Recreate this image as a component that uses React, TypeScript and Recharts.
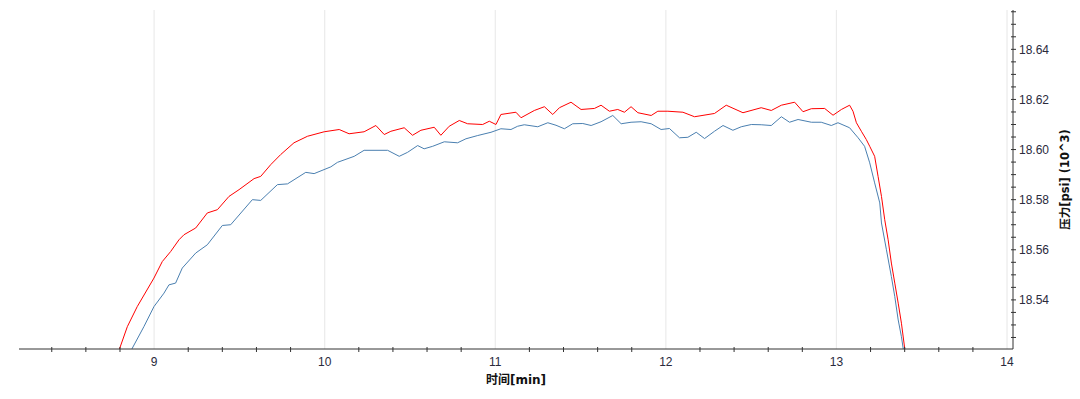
import React from 'react';
import { LineChart, Line, XAxis, YAxis, ReferenceLine, Label } from 'recharts';

// time [min]
const redTime = [8.774, 8.799, 8.843, 8.901, 8.999, 9.048, 9.097, 9.146, 9.175, 9.244, 9.312, 9.371, 9.439, 9.498, 9.586, 9.625, 9.684, 9.742, 9.82, 9.899, 9.997, 10.085, 10.143, 10.231, 10.3, 10.349, 10.388, 10.466, 10.515, 10.564, 10.642, 10.681, 10.73, 10.789, 10.838, 10.926, 10.965, 11.004, 11.033, 11.121, 11.151, 11.229, 11.288, 11.337, 11.376, 11.444, 11.503, 11.581, 11.62, 11.669, 11.718, 11.757, 11.796, 11.836, 11.914, 11.953, 12.012, 12.1, 12.168, 12.285, 12.354, 12.452, 12.559, 12.618, 12.677, 12.755, 12.804, 12.853, 12.931, 12.98, 13.029, 13.077, 13.097, 13.117, 13.146, 13.175, 13.195, 13.224, 13.244, 13.264, 13.283, 13.303, 13.322, 13.342, 13.362, 13.381, 13.4, 13.41];
// pressure [psi x 10^3]
const redPressure = [18.5152, 18.5208, 18.5293, 18.5373, 18.5487, 18.5553, 18.5593, 18.564, 18.566, 18.5687, 18.5747, 18.576, 18.5813, 18.584, 18.5884, 18.5893, 18.594, 18.598, 18.6027, 18.6053, 18.6071, 18.608, 18.6063, 18.6071, 18.6096, 18.606, 18.6073, 18.6087, 18.6057, 18.6077, 18.6089, 18.6057, 18.6093, 18.6116, 18.6103, 18.61, 18.6113, 18.61, 18.614, 18.6149, 18.6127, 18.6156, 18.6171, 18.614, 18.6167, 18.6189, 18.616, 18.6164, 18.6177, 18.6153, 18.616, 18.6149, 18.6171, 18.6147, 18.6136, 18.6153, 18.6153, 18.6149, 18.6131, 18.6144, 18.6177, 18.6147, 18.6167, 18.6156, 18.6177, 18.6189, 18.6151, 18.6163, 18.6164, 18.6137, 18.616, 18.6177, 18.6153, 18.6107, 18.6073, 18.604, 18.6013, 18.5973, 18.5893, 18.5813, 18.572, 18.564, 18.5547, 18.5467, 18.5387, 18.5307, 18.5207, 18.5152];

const blueTime = [8.85, 8.872, 8.94, 8.999, 9.058, 9.087, 9.126, 9.165, 9.244, 9.312, 9.4, 9.449, 9.576, 9.625, 9.723, 9.782, 9.889, 9.938, 10.036, 10.075, 10.173, 10.231, 10.369, 10.437, 10.486, 10.545, 10.583, 10.633, 10.701, 10.779, 10.828, 10.897, 10.975, 11.033, 11.092, 11.131, 11.17, 11.249, 11.308, 11.356, 11.405, 11.454, 11.513, 11.562, 11.62, 11.689, 11.738, 11.796, 11.855, 11.914, 11.972, 12.021, 12.08, 12.129, 12.178, 12.227, 12.285, 12.335, 12.393, 12.442, 12.501, 12.559, 12.618, 12.677, 12.725, 12.775, 12.853, 12.911, 12.97, 13.009, 13.077, 13.127, 13.165, 13.195, 13.224, 13.254, 13.264, 13.293, 13.322, 13.342, 13.362, 13.381, 13.391, 13.398];
const bluePressure = [18.5152, 18.5207, 18.5293, 18.5373, 18.5427, 18.546, 18.5467, 18.5527, 18.5587, 18.562, 18.5697, 18.57, 18.58, 18.5797, 18.586, 18.5863, 18.5909, 18.5904, 18.5931, 18.5949, 18.5973, 18.5997, 18.5997, 18.5973, 18.5989, 18.6016, 18.6003, 18.6013, 18.6031, 18.6027, 18.6043, 18.6056, 18.6069, 18.6083, 18.608, 18.6093, 18.6099, 18.6091, 18.6107, 18.6097, 18.6083, 18.6103, 18.6104, 18.6096, 18.6111, 18.6136, 18.6103, 18.6109, 18.6111, 18.6103, 18.608, 18.6084, 18.6047, 18.6049, 18.6069, 18.6044, 18.6073, 18.6096, 18.6077, 18.6091, 18.61, 18.6099, 18.6096, 18.6131, 18.6109, 18.612, 18.6109, 18.6109, 18.6096, 18.6107, 18.6087, 18.6047, 18.6013, 18.5947, 18.5867, 18.5787, 18.5707, 18.56, 18.5493, 18.5413, 18.532, 18.5253, 18.5207, 18.5152];

const xTicks = [8.4, 8.6, 8.8, 9, 9.2, 9.4, 9.6, 9.8, 10, 10.2, 10.4, 10.6, 10.8, 11, 11.2, 11.4, 11.6, 11.8, 12, 12.2, 12.4, 12.6, 12.8, 13, 13.2, 13.4, 13.6, 13.8, 14];
const xLabelTicks = [9, 10, 11, 12, 13, 14];
const yTicks = [18.525, 18.53, 18.535, 18.54, 18.545, 18.55, 18.555, 18.56, 18.565, 18.57, 18.575, 18.58, 18.585, 18.59, 18.595, 18.6, 18.605, 18.61, 18.615, 18.62, 18.625, 18.63, 18.635, 18.64, 18.645, 18.65, 18.655];
const yLabelTicks = [18.54, 18.56, 18.58, 18.6, 18.62, 18.64];

const xDomain = [8.208, 14.035];
const yDomain = [18.5204, 18.6557];

const redData = redTime.map((t, i) => ({ t, v: redPressure[i] }));
const blueData = blueTime.map((t, i) => ({ t, v: bluePressure[i] }));

const isIn = (arr: number[], v: number) => arr.some((m) => Math.abs(m - v) < 1e-6);

const TEXT = '#2a2a3c';
const AXIS = '#333333';
const FONT = '"Liberation Sans", Arial, sans-serif';
const TITLE_FONT = '"DejaVu Sans", "Noto Sans CJK SC", sans-serif';

const XTick = (props: any) => {
  const { x, y, payload } = props;
  const v = payload.value;
  if (isIn(xLabelTicks, v)) {
    return (
      <text x={x} y={y + 17} textAnchor="middle" fontSize={12} fontFamily={FONT} fill={TEXT}>
        {String(v)}
      </text>
    );
  }
  return <line x1={x} x2={x} y1={y - 2} y2={y + 3} stroke={AXIS} strokeWidth={1} />;
};

const YTick = (props: any) => {
  const { x, y, payload } = props;
  const v = payload.value;
  return (
    <g>
      <line x1={x - 2} x2={x + 3} y1={y} y2={y} stroke={AXIS} strokeWidth={1} />
      {isIn(yLabelTicks, v) && (
        <text x={x + 6} y={y} dy="0.35em" textAnchor="start" fontSize={12} fontFamily={FONT} fill={TEXT}>
          {v.toFixed(2)}
        </text>
      )}
    </g>
  );
};

const YTitle = (props: any) => {
  const vb = props.viewBox || {};
  const cx = vb.x + vb.width - 15;
  const cy = vb.y + vb.height / 2;
  return (
    <text
      x={cx}
      y={cy}
      transform={`rotate(-90 ${cx} ${cy})`}
      textAnchor="middle"
      dominantBaseline="central"
      fontSize={11.5}
      fontWeight="bold"
      fontFamily={TITLE_FONT}
      fill="#111"
    >
      压力[psi] (10^3)
    </text>
  );
};

export default function App() {
  return (
    <div style={{ width: 1080, height: 399, background: '#fff' }}>
      <style>{'body{margin:0;background:#fff}'}</style>
      <LineChart width={1080} height={399} margin={{ top: 10, right: 0, bottom: 0, left: 19 }}>
        <XAxis
          xAxisId="top"
          orientation="top"
          type="number"
          domain={xDomain}
          allowDataOverflow
          height={0}
          tick={false}
          tickLine={false}
          axisLine={{ stroke: AXIS }}
        />
        <YAxis
          yAxisId="left"
          orientation="left"
          type="number"
          domain={yDomain}
          allowDataOverflow
          width={0}
          tick={false}
          tickLine={false}
          axisLine={{ stroke: AXIS }}
        />
        <XAxis
          dataKey="t"
          type="number"
          domain={xDomain}
          allowDataOverflow
          ticks={xTicks}
          interval={0}
          height={50}
          tickSize={0}
          tickMargin={0}
          tickLine={false}
          tick={<XTick />}
          axisLine={{ stroke: AXIS }}
        >
          <Label
            value="时间[min]"
            position="insideTop"
            offset={26}
            style={{ fontSize: 12, fontWeight: 'bold', fontFamily: TITLE_FONT, fill: '#111' }}
          />
        </XAxis>
        <YAxis
          orientation="right"
          type="number"
          domain={yDomain}
          allowDataOverflow
          ticks={yTicks}
          interval={0}
          width={67}
          tickSize={0}
          tickMargin={0}
          tickLine={false}
          tick={<YTick />}
          axisLine={{ stroke: AXIS }}
        >
          <Label content={<YTitle />} />
        </YAxis>
        {xLabelTicks.map((v) => (
          <ReferenceLine key={v} x={v} stroke="#ebebeb" strokeWidth={1.2} />
        ))}
        <Line
          data={blueData}
          dataKey="v"
          type="linear"
          stroke="#4a7fb0"
          strokeWidth={1}
          dot={false}
          isAnimationActive={false}
        />
        <Line
          data={redData}
          dataKey="v"
          type="linear"
          stroke="#ff0000"
          strokeWidth={1}
          dot={false}
          isAnimationActive={false}
        />
      </LineChart>
    </div>
  );
}
